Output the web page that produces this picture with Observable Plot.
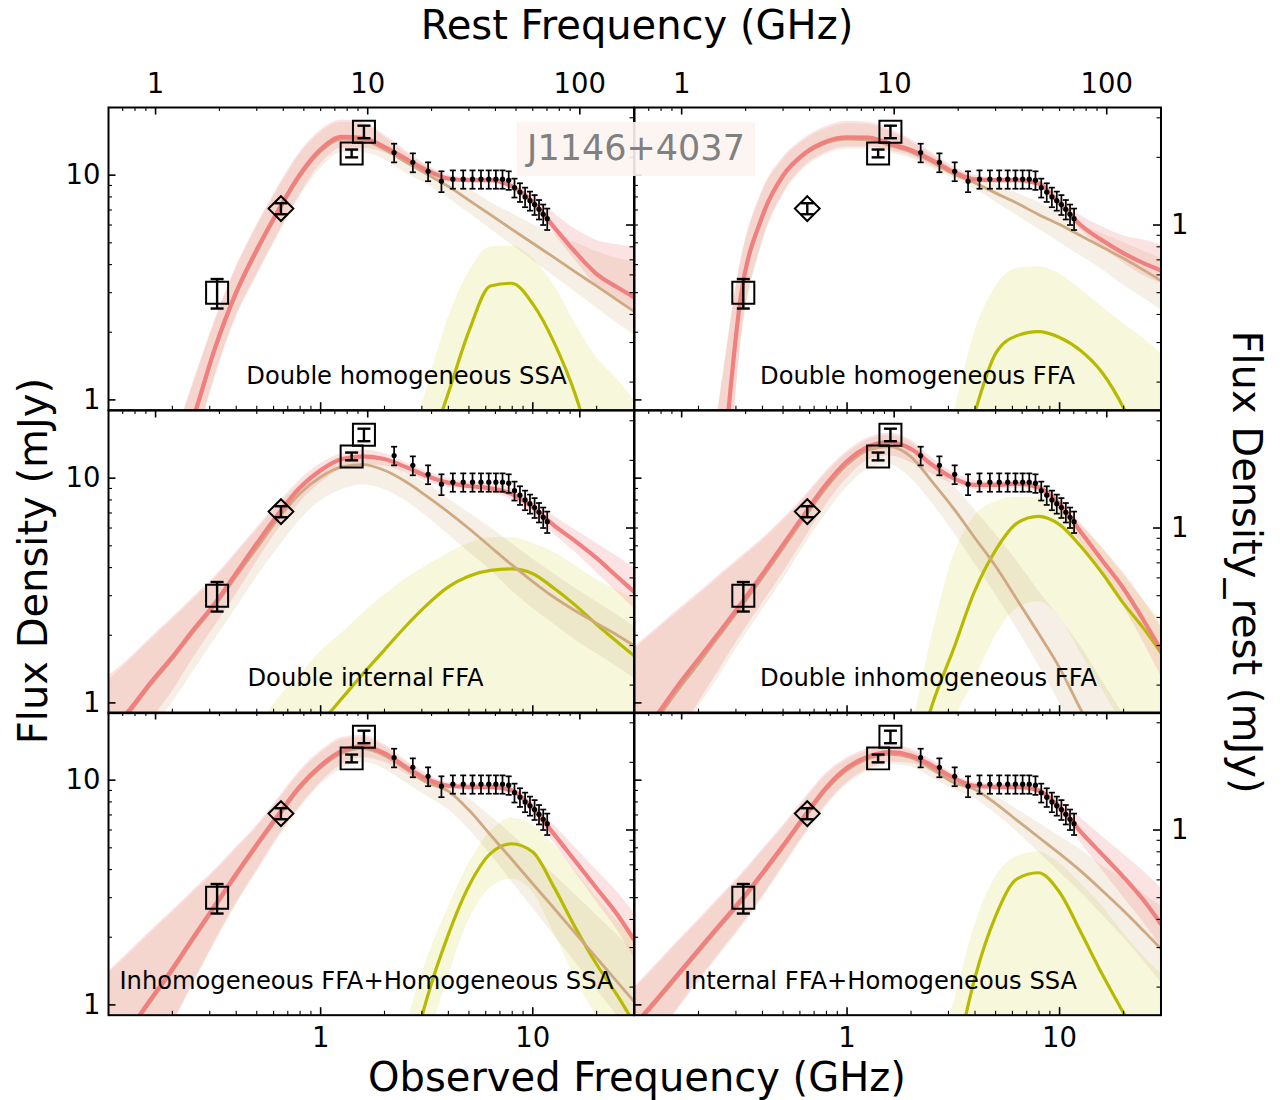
<!DOCTYPE html>
<html><head><meta charset="utf-8">
<script src="https://cdn.jsdelivr.net/npm/d3@7"></script>
<script src="https://cdn.jsdelivr.net/npm/@observablehq/plot@0.6"></script>
<style>
body{margin:0;background:#fff;}
#fig{position:relative;width:1282px;height:1100px;background:#fff;overflow:hidden;font-family:"DejaVu Sans",sans-serif;}
.panel{position:absolute;}
.t{position:absolute;white-space:nowrap;color:#000;font-family:"DejaVu Sans",sans-serif;transform:translate(-50%,-50%);line-height:1;}
</style></head><body><div id="fig"></div><script>
// ---------- data ----------
const ONE_PLUS_Z = 6.0;               // rest = observed * (1+z); flux_rest = flux / (1+z)
const X_DOMAIN = [0.1, 30];           // observed GHz
const Y_DOMAIN = [0.9, 20];           // mJy

// frequency grid at which the model curves were read (GHz)
const FREQ = [0.1,0.126,0.158,0.2,0.251,0.316,0.398,0.501,0.631,0.794,1.0,1.259,1.585,1.995,2.512,3.162,3.981,5.012,6.31,7.943,10.0,12.59,15.85,19.95,25.12,30.0];

// observations
const SQ_FREQ = [0.325, 1.4, 1.6];
const SQ_FLUX = [3.0, 12.5, 15.6];
const SQ_ERR  = [0.45, 0.5, 1.0];
const DM_FREQ = [0.65];
const DM_FLUX = [7.1];
const DM_ERR  = [0.4];
const PT_FREQ = [2.22,2.72,3.21,3.71,4.2,4.7,5.2,5.7,6.2,6.7,7.2,7.7,8.2,8.7,9.2,9.7,10.2,10.7,11.2,11.7];
const PT_FLUX = [12.6,11.4,10.4,9.4,9.6,9.6,9.6,9.6,9.6,9.6,9.6,9.5,8.8,8.4,8.0,7.7,7.4,7.05,6.7,6.4];
const PT_ERR  = [1.2,1.1,1.0,1.0,0.9,0.9,0.9,0.9,0.9,0.9,0.9,0.9,0.85,0.8,0.8,0.75,0.75,0.7,0.7,0.7];

// ticks & labels
const OBS_X_MAJOR = [1, 10];
const OBS_X_MINOR = [0.2,0.3,0.4,0.5,0.6,0.7,0.8,0.9,2,3,4,5,6,7,8,9,20];
const REST_X_MAJOR = [1, 10, 100];
const REST_X_MINOR = [0.7,0.8,0.9,2,3,4,5,6,7,8,9,20,30,40,50,60,70,80,90];
const OBS_Y_MAJOR = [1, 10];
const OBS_Y_MINOR = [2,3,4,5,6,7,8,9];
const REST_Y_MAJOR = [1];
const REST_Y_MINOR = [0.2,0.3,0.4,0.5,0.6,0.7,0.8,0.9,2,3];
const OBS_X_LABELS = [1, 10];
const REST_X_LABELS = [1, 10, 100];
const OBS_Y_LABELS = [1, 10];
const REST_Y_LABELS = [1];

const PANEL_NAMES = ["Double homogeneous SSA","Double homogeneous FFA","Double internal FFA","Double inhomogeneous FFA","Inhomogeneous FFA+Homogeneous SSA","Internal FFA+Homogeneous SSA"];

// model curves: log10(flux / mJy) at FREQ (median line, upper / lower edge of sample bundle)
const n = null;
// A: Double homogeneous SSA
const A_TOT    = [-1.12,-0.86,-0.6,-0.34,-0.08,0.225,0.475,0.67,0.843,1.0,1.115,1.17,1.165,1.126,1.074,1.022,0.985,0.978,0.978,0.951,0.881,0.769,0.658,0.561,0.50,0.457];
const A_TOT_HI = [-0.98,-0.72,-0.46,-0.2,0.08,0.35,0.59,0.78,0.95,1.1,1.2,1.245,1.235,1.18,1.11,1.045,1.0,0.99,0.99,0.97,0.91,0.83,0.76,0.71,0.69,0.68];
const A_TOT_LO = [-1.26,-1.0,-0.74,-0.48,-0.22,0.1,0.37,0.56,0.74,0.91,1.05,1.12,1.12,1.1,1.05,1.0,0.97,0.965,0.965,0.935,0.86,0.74,0.62,0.51,0.44,0.40];
const A_C1     = [-1.13,-0.87,-0.61,-0.35,-0.09,0.215,0.465,0.66,0.835,0.99,1.105,1.16,1.155,1.115,1.06,1.005,0.951,0.888,0.824,0.76,0.697,0.634,0.570,0.507,0.443,0.394];
const A_C1_HI  = [-0.99,-0.73,-0.47,-0.21,0.07,0.34,0.58,0.77,0.94,1.09,1.19,1.235,1.225,1.17,1.1,1.04,0.99,0.94,0.88,0.83,0.78,0.74,0.70,0.66,0.63,0.61];
const A_C1_LO  = [-1.27,-1.01,-0.75,-0.49,-0.23,0.09,0.36,0.55,0.73,0.9,1.03,1.1,1.1,1.07,1.01,0.96,0.9,0.83,0.76,0.69,0.62,0.55,0.48,0.41,0.34,0.29];
const A_C2     = [n,n,n,n,n,n,n,n,n,n,n,n,n,n,-0.55,-0.25,0.025,0.308,0.507,0.519,0.427,0.256,0.025,-0.3,-0.7,-1.0];
const A_C2_HI  = [n,n,n,n,n,n,n,n,n,n,n,n,n,n,-0.3,0.05,0.36,0.57,0.68,0.685,0.63,0.51,0.34,0.19,0.09,0.0];
const A_C2_LO  = [n,n,n,n,n,n,n,n,n,n,n,n,n,n,-0.6,-0.6,-0.6,-0.6,-0.6,-0.6,-0.6,-0.6,-0.6,-0.6,-0.6,-0.6];
// B: Double homogeneous FFA
const B_TOT    = [n,n,n,-1.2,-0.45,0.457,0.814,1.0,1.097,1.149,1.168,1.167,1.141,1.112,1.067,1.015,0.981,0.978,0.978,0.963,0.874,0.777,0.71,0.653,0.606,0.576];
const B_TOT_HI = [n,n,n,-0.6,0.0,0.62,0.93,1.08,1.165,1.215,1.24,1.235,1.205,1.16,1.1,1.04,1.0,0.99,0.99,0.975,0.9,0.82,0.77,0.73,0.71,0.69];
const B_TOT_LO = [n,n,n,-1.6,-0.9,0.25,0.7,0.92,1.04,1.1,1.125,1.125,1.11,1.085,1.04,1.0,0.965,0.965,0.965,0.95,0.86,0.755,0.68,0.61,0.55,0.52];
const B_C1     = [n,n,n,-1.21,-0.46,0.45,0.808,0.994,1.09,1.142,1.16,1.158,1.132,1.103,1.058,1.005,0.966,0.92,0.875,0.825,0.78,0.73,0.68,0.63,0.575,0.53];
const B_C1_HI  = [n,n,n,-0.61,-0.01,0.61,0.92,1.07,1.155,1.205,1.23,1.225,1.195,1.15,1.09,1.03,0.99,0.96,0.92,0.88,0.83,0.78,0.74,0.70,0.66,0.63];
const B_C1_LO  = [n,n,n,-1.61,-0.91,0.24,0.69,0.91,1.03,1.09,1.115,1.115,1.1,1.075,1.03,0.985,0.94,0.88,0.82,0.76,0.70,0.64,0.58,0.51,0.45,0.40];
const B_C2     = [n,n,n,n,n,n,n,n,n,n,n,n,n,n,-1.0,-0.4,-0.06,0.208,0.286,0.304,0.278,0.219,0.122,-0.034,-0.25,-0.45];
const B_C2_HI  = [n,n,n,n,n,n,n,n,n,n,n,n,n,n,-0.45,-0.07,0.3,0.505,0.585,0.592,0.56,0.49,0.415,0.34,0.27,0.205];
const B_C2_LO  = [n,n,n,n,n,n,n,n,n,n,n,n,n,n,-0.6,-0.6,-0.6,-0.6,-0.6,-0.6,-0.6,-0.6,-0.6,-0.6,-0.6,-0.6];
// C: Double internal FFA
const C_TOT    = [-0.14,-0.03,0.09,0.205,0.325,0.44,0.575,0.71,0.84,0.955,1.035,1.085,1.097,1.085,1.05,1.01,0.98,0.965,0.955,0.93,0.87,0.79,0.72,0.645,0.56,0.495];
const C_TOT_HI = [0.12,0.2,0.29,0.38,0.47,0.56,0.67,0.78,0.89,0.99,1.065,1.11,1.125,1.11,1.07,1.03,1.0,0.985,0.975,0.955,0.9,0.83,0.77,0.71,0.65,0.6];
const C_TOT_LO = [-0.35,-0.22,-0.08,0.05,0.2,0.34,0.48,0.63,0.77,0.89,0.98,1.04,1.06,1.055,1.025,0.985,0.96,0.945,0.935,0.905,0.84,0.75,0.67,0.58,0.49,0.42];
const C_C1     = [-0.15,-0.04,0.08,0.195,0.315,0.43,0.56,0.69,0.82,0.93,1.005,1.05,1.06,1.035,0.985,0.92,0.85,0.775,0.695,0.615,0.54,0.47,0.41,0.355,0.3,0.255];
const C_C1_HI  = [0.1,0.19,0.28,0.37,0.46,0.55,0.66,0.77,0.88,0.97,1.045,1.085,1.095,1.075,1.03,0.975,0.91,0.845,0.78,0.71,0.64,0.575,0.51,0.45,0.39,0.34];
const C_C1_LO  = [-0.4,-0.27,-0.13,0.0,0.14,0.28,0.42,0.56,0.69,0.81,0.9,0.95,0.97,0.95,0.9,0.83,0.75,0.67,0.59,0.5,0.42,0.35,0.28,0.22,0.16,0.11];
const C_C2     = [n,n,n,n,n,n,n,-0.42,-0.31,-0.2,-0.09,0.02,0.13,0.235,0.34,0.435,0.515,0.565,0.59,0.596,0.575,0.51,0.435,0.35,0.27,0.21];
const C_C2_HI  = [n,n,n,n,n,n,n,-0.12,0.02,0.12,0.23,0.31,0.4,0.48,0.55,0.61,0.665,0.71,0.735,0.735,0.71,0.67,0.61,0.55,0.5,0.46];
const C_C2_LO  = [n,n,n,n,n,n,n,-0.6,-0.6,-0.6,-0.6,-0.6,-0.6,-0.6,-0.6,-0.6,-0.6,-0.6,-0.6,-0.6,-0.6,-0.6,-0.6,-0.6,-0.6,-0.6];
// D: Double inhomogeneous FFA
const D_TOT    = [-0.18,-0.06,0.07,0.195,0.315,0.44,0.57,0.705,0.84,0.97,1.075,1.14,1.16,1.13,1.06,1.0,0.97,0.97,0.975,0.96,0.885,0.76,0.635,0.51,0.36,0.235];
const D_TOT_HI = [0.25,0.33,0.41,0.49,0.57,0.65,0.73,0.82,0.92,1.03,1.12,1.18,1.2,1.17,1.09,1.025,0.99,0.985,0.99,0.975,0.91,0.8,0.69,0.58,0.45,0.34];
const D_TOT_LO = [-0.45,-0.3,-0.15,0.0,0.15,0.3,0.44,0.58,0.73,0.88,1.0,1.08,1.1,1.07,1.02,0.975,0.95,0.95,0.955,0.94,0.85,0.71,0.57,0.43,0.26,0.12];
const D_C1     = [-0.2,-0.08,0.05,0.175,0.3,0.425,0.555,0.69,0.825,0.955,1.06,1.125,1.14,1.096,0.985,0.867,0.736,0.607,0.459,0.311,0.156,-0.03,-0.2,-0.38,-0.56,-0.7];
const D_C1_HI  = [0.24,0.32,0.4,0.48,0.56,0.64,0.72,0.81,0.91,1.02,1.11,1.17,1.19,1.16,1.07,0.97,0.86,0.75,0.63,0.5,0.38,0.25,0.1,-0.05,-0.2,-0.3];
const D_C1_LO  = [-0.47,-0.32,-0.17,-0.02,0.12,0.27,0.41,0.55,0.7,0.84,0.96,1.04,1.06,1.0,0.89,0.76,0.62,0.48,0.33,0.17,0.0,-0.2,-0.4,-0.6,-0.8,-0.9];
const D_C2     = [n,n,n,n,n,n,n,n,n,n,n,n,-0.7,-0.35,-0.01,0.237,0.496,0.681,0.8,0.83,0.793,0.696,0.578,0.444,0.326,0.222];
const D_C2_HI  = [n,n,n,n,n,n,n,n,n,n,n,n,n,-0.15,0.3,0.65,0.83,0.895,0.915,0.915,0.875,0.79,0.69,0.57,0.45,0.37];
const D_C2_LO  = [n,n,n,n,n,n,n,n,n,n,n,n,n,-0.9,-0.5,-0.1,0.1,0.3,0.42,0.45,0.38,0.22,0.06,-0.1,-0.25,-0.35];
// E: Inhomogeneous FFA + Homogeneous SSA
const E_TOT    = [-0.25,-0.11,0.025,0.16,0.3,0.44,0.58,0.715,0.845,0.97,1.065,1.13,1.15,1.12,1.06,1.005,0.975,0.97,0.97,0.955,0.875,0.76,0.64,0.52,0.4,0.29];
const E_TOT_HI = [0.15,0.24,0.33,0.42,0.51,0.6,0.7,0.8,0.92,1.04,1.13,1.19,1.2,1.16,1.09,1.03,0.99,0.985,0.985,0.97,0.9,0.8,0.7,0.6,0.5,0.41];
const E_TOT_LO = [-0.55,-0.4,-0.25,-0.08,0.1,0.28,0.45,0.6,0.75,0.88,0.99,1.07,1.1,1.08,1.03,0.985,0.96,0.955,0.955,0.94,0.85,0.72,0.59,0.46,0.33,0.21];
const E_C1     = [-0.26,-0.12,0.015,0.15,0.29,0.43,0.57,0.705,0.835,0.96,1.055,1.12,1.14,1.11,1.05,0.99,0.952,0.866,0.757,0.649,0.539,0.43,0.32,0.21,0.1,0.016];
const E_C1_HI  = [0.14,0.23,0.32,0.41,0.5,0.59,0.69,0.79,0.91,1.03,1.12,1.18,1.19,1.15,1.08,1.02,0.98,0.92,0.84,0.76,0.67,0.58,0.49,0.4,0.31,0.24];
const E_C1_LO  = [-0.56,-0.41,-0.26,-0.09,0.09,0.27,0.44,0.59,0.74,0.87,0.98,1.05,1.08,1.05,0.99,0.93,0.87,0.78,0.67,0.55,0.43,0.31,0.19,0.07,-0.05,-0.14];
const E_C2     = [n,n,n,n,n,n,n,n,n,n,n,n,n,-0.85,-0.35,0.025,0.308,0.531,0.673,0.717,0.68,0.524,0.345,0.182,0.04,-0.08];
const E_C2_HI  = [n,n,n,n,n,n,n,n,n,n,n,n,n,n,-0.1,0.2,0.43,0.63,0.77,0.83,0.8,0.71,0.6,0.48,0.37,0.29];
const E_C2_LO  = [n,n,n,n,n,n,n,n,n,n,n,n,n,n,-0.7,-0.2,0.12,0.38,0.52,0.56,0.5,0.32,0.12,-0.05,-0.2,-0.3];
// F: Internal FFA + Homogeneous SSA
const F_TOT    = [-0.09,0.02,0.13,0.245,0.355,0.465,0.585,0.71,0.84,0.965,1.055,1.105,1.125,1.11,1.065,1.01,0.975,0.97,0.97,0.955,0.88,0.77,0.67,0.57,0.46,0.36];
const F_TOT_HI = [0.08,0.18,0.28,0.38,0.48,0.58,0.69,0.8,0.92,1.03,1.1,1.14,1.155,1.14,1.09,1.03,0.99,0.985,0.985,0.97,0.91,0.83,0.75,0.67,0.59,0.52];
const F_TOT_LO = [-0.28,-0.15,-0.02,0.11,0.23,0.35,0.48,0.62,0.76,0.89,0.99,1.05,1.08,1.075,1.035,0.99,0.96,0.955,0.955,0.94,0.85,0.72,0.6,0.48,0.36,0.26];
const F_C1     = [-0.1,0.01,0.12,0.235,0.345,0.455,0.575,0.7,0.83,0.955,1.045,1.095,1.115,1.1,1.05,0.99,0.96,0.896,0.821,0.747,0.673,0.595,0.509,0.42,0.325,0.25];
const F_C1_HI  = [0.07,0.17,0.27,0.37,0.47,0.57,0.68,0.79,0.91,1.02,1.09,1.13,1.145,1.13,1.08,1.02,0.98,0.93,0.87,0.81,0.75,0.69,0.62,0.56,0.49,0.44];
const F_C1_LO  = [-0.29,-0.16,-0.03,0.1,0.22,0.34,0.47,0.61,0.75,0.88,0.98,1.04,1.07,1.06,1.01,0.96,0.92,0.85,0.77,0.68,0.59,0.5,0.4,0.3,0.19,0.1];
const F_C2     = [n,n,n,n,n,n,n,n,n,n,n,n,n,n,-0.75,-0.3,0.115,0.397,0.561,0.588,0.501,0.323,0.137,-0.034,-0.2,-0.33];
const F_C2_HI  = [n,n,n,n,n,n,n,n,n,n,n,n,n,n,-0.3,0.0,0.35,0.57,0.66,0.68,0.63,0.54,0.44,0.32,0.21,0.14];
const F_C2_LO  = [n,n,n,n,n,n,n,n,n,n,n,n,n,n,-0.6,-0.6,-0.6,-0.6,-0.6,-0.6,-0.6,-0.6,-0.6,-0.6,-0.6,-0.6];

// ---------- styling / layout ----------
const COL = {tot:"#f08080", c1:"#cfa982", c2:"#b8ba00", totBand:"#f08080", c1Band:"#d2b48c", c2Band:"#d6d850"};
const H = 302.7;
const PANELS = [
  {left:108, top:107,   w:525.5, row:0, col:0, label:[298,269], tot:[A_TOT,A_TOT_HI,A_TOT_LO], c1:[A_C1,A_C1_HI,A_C1_LO], c2:[A_C2,A_C2_HI,A_C2_LO]},
  {left:633.5, top:107, w:526.5, row:0, col:1, label:[283,269], tot:[B_TOT,B_TOT_HI,B_TOT_LO], c1:[B_C1,B_C1_HI,B_C1_LO], c2:[B_C2,B_C2_HI,B_C2_LO]},
  {left:108, top:409.7, w:525.5, row:1, col:0, label:[257,268], tot:[C_TOT,C_TOT_HI,C_TOT_LO], c1:[C_C1,C_C1_HI,C_C1_LO], c2:[C_C2,C_C2_HI,C_C2_LO]},
  {left:633.5, top:409.7, w:526.5, row:1, col:1, label:[294,268], tot:[D_TOT,D_TOT_HI,D_TOT_LO], c1:[D_C1,D_C1_HI,D_C1_LO], c2:[D_C2,D_C2_HI,D_C2_LO]},
  {left:108, top:712.4, w:525.5, row:2, col:0, label:[258,269], tot:[E_TOT,E_TOT_HI,E_TOT_LO], c1:[E_C1,E_C1_HI,E_C1_LO], c2:[E_C2,E_C2_HI,E_C2_LO]},
  {left:633.5, top:712.4, w:526.5, row:2, col:1, label:[246,269], tot:[F_TOT,F_TOT_HI,F_TOT_LO], c1:[F_C1,F_C1_HI,F_C1_LO], c2:[F_C2,F_C2_HI,F_C2_LO]}
];

const L10 = v => (v == null ? NaN : Math.pow(10, v));
const capSym = {draw(ctx, size){ const r = Math.sqrt(size/Math.PI); ctx.moveTo(-r,0); ctx.lineTo(r,0); }};
const squareSym = {draw(ctx, size){ const r = Math.sqrt(size/Math.PI); ctx.moveTo(-r,-r); ctx.lineTo(r,-r); ctx.lineTo(r,r); ctx.lineTo(-r,r); ctx.closePath(); }};
const diamondSym = {draw(ctx, size){ const r = Math.sqrt(size/Math.PI); ctx.moveTo(0,-r); ctx.lineTo(r,0); ctx.lineTo(0,r); ctx.lineTo(-r,0); ctx.closePath(); }};

const squares = SQ_FREQ.map((f,i)=>({f, s:SQ_FLUX[i], lo:SQ_FLUX[i]-SQ_ERR[i], hi:SQ_FLUX[i]+SQ_ERR[i]}));
const diamonds = DM_FREQ.map((f,i)=>({f, s:DM_FLUX[i], lo:DM_FLUX[i]-DM_ERR[i], hi:DM_FLUX[i]+DM_ERR[i]}));
const points = PT_FREQ.map((f,i)=>({f, s:PT_FLUX[i], lo:PT_FLUX[i]-PT_ERR[i], hi:PT_FLUX[i]+PT_ERR[i]}));
const big = squares.concat(diamonds);

const fig = document.getElementById("fig");

function makePanel(p) {
  const rows = FREQ.map((f,i)=>({
    f,
    tot:L10(p.tot[0][i]), totHi:L10(p.tot[1][i]), totLo:L10(p.tot[2][i]),
    c1:L10(p.c1[0][i]), c1Hi:L10(p.c1[1][i]), c1Lo:L10(p.c1[2][i]),
    c2:L10(p.c2[0][i]), c2Hi:L10(p.c2[1][i]), c2Lo:L10(p.c2[2][i])
  }));
  const W = p.w;
  const tk = {stroke:"black"};
  const marks = [
    Plot.areaY(rows, {x:"f", y1:"c2Lo", y2:"c2Hi", fill:COL.c2Band, fillOpacity:0.2, curve:"monotone-x", clip:true}),
    Plot.areaY(rows, {x:"f", y1:"c1Lo", y2:"c1Hi", fill:COL.c1Band, fillOpacity:0.22, curve:"monotone-x", clip:true}),
    Plot.areaY(rows, {x:"f", y1:"totLo", y2:"totHi", fill:COL.totBand, fillOpacity:0.22, curve:"monotone-x", clip:true}),
    Plot.line(rows, {x:"f", y:"c2", stroke:COL.c2, strokeWidth:3.2, curve:"monotone-x", clip:true}),
    Plot.line(rows, {x:"f", y:"c1", stroke:COL.c1, strokeWidth:2.8, curve:"monotone-x", clip:true}),
    Plot.line(rows, {x:"f", y:"tot", stroke:COL.tot, strokeWidth:4.2, curve:"monotone-x", clip:true}),
    // observations
    Plot.ruleX(big, {x:"f", y1:"lo", y2:"hi", stroke:"black", strokeWidth:2.4}),
    Plot.dot(big, {x:"f", y:"hi", symbol:capSym, r:6.5, stroke:"black", strokeWidth:2.4, fill:"none"}),
    Plot.dot(big, {x:"f", y:"lo", symbol:capSym, r:6.5, stroke:"black", strokeWidth:2.4, fill:"none"}),
    Plot.dot(squares, {x:"f", y:"s", symbol:squareSym, r:11, stroke:"black", strokeWidth:2, fill:"none"}),
    Plot.dot(diamonds, {x:"f", y:"s", symbol:diamondSym, r:12.4, stroke:"black", strokeWidth:2, fill:"none"}),
    Plot.ruleX(points, {x:"f", y1:"lo", y2:"hi", stroke:"black", strokeWidth:1.7}),
    Plot.dot(points, {x:"f", y:"hi", symbol:capSym, r:3, stroke:"black", strokeWidth:1.7, fill:"none"}),
    Plot.dot(points, {x:"f", y:"lo", symbol:capSym, r:3, stroke:"black", strokeWidth:1.7, fill:"none"}),
    Plot.dot(points, {x:"f", y:"s", r:2.6, fill:"black", stroke:"none"}),
    // inward ticks: bottom = observed freq, top = rest freq, left = observed flux, right = rest flux
    Plot.ruleX(OBS_X_MAJOR, {x:d=>d, insetTop:H-7.5, ...tk, strokeWidth:1.6}),
    Plot.ruleX(OBS_X_MINOR, {x:d=>d, insetTop:H-4, ...tk, strokeWidth:1.1}),
    Plot.ruleX(REST_X_MAJOR, {x:d=>d/ONE_PLUS_Z, insetBottom:H-7.5, ...tk, strokeWidth:1.6}),
    Plot.ruleX(REST_X_MINOR, {x:d=>d/ONE_PLUS_Z, insetBottom:H-4, ...tk, strokeWidth:1.1}),
    Plot.ruleY(OBS_Y_MAJOR, {y:d=>d, insetRight:W-7.5, ...tk, strokeWidth:1.6}),
    Plot.ruleY(OBS_Y_MINOR, {y:d=>d, insetRight:W-4, ...tk, strokeWidth:1.1}),
    Plot.ruleY(REST_Y_MAJOR, {y:d=>d*ONE_PLUS_Z, insetLeft:W-7.5, ...tk, strokeWidth:1.6}),
    Plot.ruleY(REST_Y_MINOR, {y:d=>d*ONE_PLUS_Z, insetLeft:W-4, ...tk, strokeWidth:1.1}),
    Plot.frame({stroke:"black", strokeWidth:2}),
    Plot.text([PANEL_NAMES[p.row*2+p.col]], {text:d=>d, frameAnchor:"top-left", dx:p.label[0], dy:p.label[1], textAnchor:"middle", lineAnchor:"middle", fontSize:24.2, fill:"black"})
  ];
  const lab = {fontSize:27.5, fill:"black", lineAnchor:"middle"};
  if (p.row === 0) marks.push(Plot.text(REST_X_LABELS, {x:d=>d/ONE_PLUS_Z, text:d=>String(d), frameAnchor:"top", dy:-23, textAnchor:"middle", ...lab}));
  if (p.row === 2) marks.push(Plot.text(OBS_X_LABELS, {x:d=>d, text:d=>String(d), frameAnchor:"bottom", dy:23, textAnchor:"middle", ...lab}));
  if (p.col === 0) marks.push(Plot.text(OBS_Y_LABELS, {y:d=>d, text:d=>String(d), frameAnchor:"left", dx:-8, textAnchor:"end", ...lab}));
  if (p.col === 1) marks.push(Plot.text(REST_Y_LABELS, {y:d=>d*ONE_PLUS_Z, text:d=>String(d), frameAnchor:"right", dx:10, textAnchor:"start", ...lab}));

  const svg = Plot.plot({
    width:W, height:H, margin:0,
    style:{background:"transparent", overflow:"visible", fontFamily:"DejaVu Sans, sans-serif"},
    x:{type:"log", domain:X_DOMAIN, axis:null},
    y:{type:"log", domain:Y_DOMAIN, axis:null},
    marks
  });
  svg.classList.add("panel");
  svg.style.left = p.left + "px";
  svg.style.top = p.top + "px";
  svg.style.position = "absolute";
  svg.style.maxWidth = "none";
  fig.appendChild(svg);
}
PANELS.forEach(makePanel);

function addText(txt, x, y, size, extra) {
  const d = document.createElement("div");
  d.className = "t";
  d.textContent = txt;
  d.style.left = x + "px"; d.style.top = y + "px"; d.style.fontSize = size + "px";
  if (extra) Object.assign(d.style, extra);
  fig.appendChild(d);
  return d;
}
addText("Rest Frequency (GHz)", 637, 25, 40);
addText("Observed Frequency (GHz)", 637, 1077, 40);
addText("Flux Density (mJy)", 33, 561, 40, {transform:"translate(-50%,-50%) rotate(-90deg)"});
addText("Flux Density_rest (mJy)", 1247, 562, 40, {transform:"translate(-50%,-50%) rotate(90deg)"});
addText("J1146+4037", 636, 149, 35, {color:"#808080", background:"rgba(252,244,241,0.9)", padding:"9px 10px 10px 10px"});
</script></body></html>
